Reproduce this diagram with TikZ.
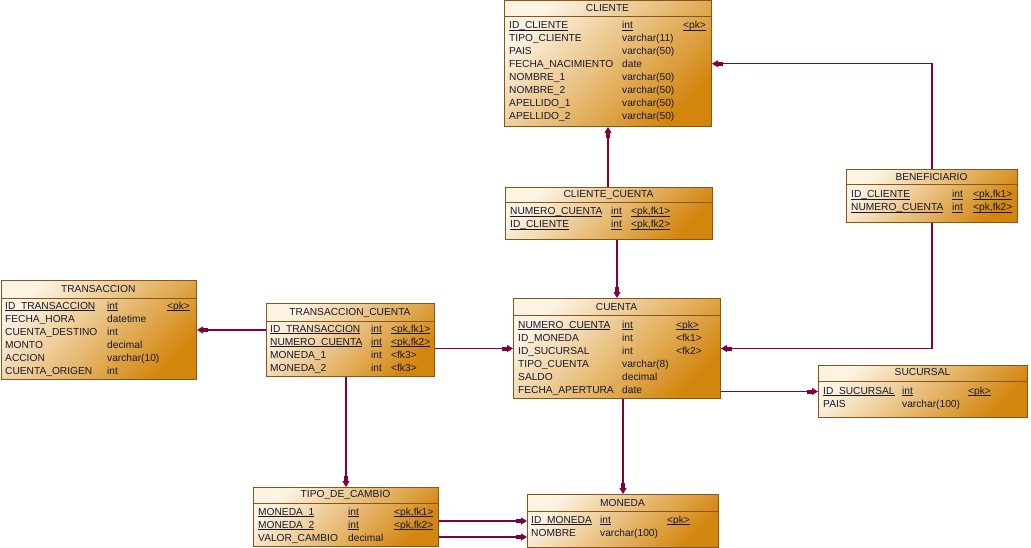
\documentclass[tikz,border=0pt]{standalone}
\usepackage{fontspec}
\setmainfont{Liberation Sans}
\usetikzlibrary{arrows.meta}

\definecolor{fkline}{RGB}{128,0,64}
\definecolor{boxlight}{RGB}{252,243,226}
\definecolor{boxdark}{RGB}{211,134,14}
\definecolor{boxedge}{RGB}{139,84,26}
\definecolor{txt}{RGB}{25,25,45}

\tikzset{
  tbl/.style={draw=boxedge, line width=1pt, top color=boxlight, bottom color=boxdark, shading angle=45, inner sep=0},
  fld/.style={anchor=base west, inner sep=0, text=txt, font=\fontsize{10.2}{12}\selectfont},
  ttl/.style={anchor=base, inner sep=0, text=txt, font=\fontsize{10.2}{12}\selectfont},
  fk/.style={draw=fkline, line width=1.1pt, -{Rectangle[length=5pt,width=4pt,sep=0pt]Triangle[length=6pt,width=7pt,sep=0pt]}},
}

% underlined key columns
\newcommand{\pkul}[1]{\underline{\smash{#1}}}
\newcommand{\nokey}{\relax}
% box: name, title, x1, y1, x2, y2, header line, title baseline
\newcommand{\entity}[8]{%
  \node[tbl, anchor=north west, minimum width=#5-#3, minimum height=#6-#4] (#1) at (#3,#4) {};
  \draw[boxedge, line width=1pt] (#3,#7) -- (#5,#7);
  \node[ttl] (#1-title) at ({(#3+#5)/2},#8) {#2};
}
% rows: table, x name, x type, x key, first baseline, list
\newcommand{\fields}[6]{%
  \foreach \fname/\ftype/\fkey/\fmark [count=\i] in {#6} {
    \node[fld] (#1-n\i) at (#2,#5+13*\i-13) {\fmark{\fname}};
    \node[fld] (#1-t\i) at (#3,#5+13*\i-13) {\fmark{\ftype}};
    \node[fld] (#1-k\i) at (#4,#5+13*\i-13) {\fmark{\fkey}};
  }}

\begin{document}
\begin{tikzpicture}[x=1pt,y=-1pt]
\useasboundingbox (0,0) rectangle (1031,548);

% tables
\entity{cliente}{CLIENTE}{504}{0.5}{711}{126}{17}{12}
\fields{cliente}{509}{622}{683}{29}{ID\_CLIENTE/int/<pk>/\pkul, TIPO\_CLIENTE/varchar(11)/\nokey/\relax,
  PAIS/varchar(50)/\nokey/\relax, FECHA\_NACIMIENTO/date/\nokey/\relax, NOMBRE\_1/varchar(50)/\nokey/\relax,
  NOMBRE\_2/varchar(50)/\nokey/\relax, APELLIDO\_1/varchar(50)/\nokey/\relax, APELLIDO\_2/varchar(50)/\nokey/\relax}

\entity{clicta}{CLIENTE\_CUENTA}{505}{187}{712}{239}{203}{198}
\fields{clicta}{510}{611}{631}{215}{{NUMERO\_CUENTA/int/<pk,fk1>/\pkul}, {ID\_CLIENTE/int/<pk,fk2>/\pkul}}

\entity{benef}{BENEFICIARIO}{846}{169}{1017}{222}{185}{181}
\fields{benef}{851}{952}{973}{198}{{ID\_CLIENTE/int/<pk,fk1>/\pkul}, {NUMERO\_CUENTA/int/<pk,fk2>/\pkul}}

\entity{trans}{TRANSACCION}{0.5}{280}{196}{379}{298}{292}
\fields{trans}{5}{107}{167}{309}{ID\_TRANSACCION/int/<pk>/\pkul, FECHA\_HORA/datetime/\nokey/\relax,
  CUENTA\_DESTINO/int/\nokey/\relax, MONTO/decimal/\nokey/\relax, ACCION/varchar(10)/\nokey/\relax,
  CUENTA\_ORIGEN/int/\nokey/\relax}

\entity{trcta}{TRANSACCION\_CUENTA}{266}{303}{434}{376}{321}{315}
\fields{trcta}{270}{371}{391}{332}{{ID\_TRANSACCION/int/<pk,fk1>/\pkul}, {NUMERO\_CUENTA/int/<pk,fk2>/\pkul},
  MONEDA\_1/int/<fk3>/\relax, MONEDA\_2/int/<fk3>/\relax}

\entity{cuenta}{CUENTA}{513}{298}{720}{398}{315}{310}
\fields{cuenta}{518}{622}{676}{328}{NUMERO\_CUENTA/int/<pk>/\pkul, ID\_MONEDA/int/<fk1>/\relax,
  ID\_SUCURSAL/int/<fk2>/\relax, TIPO\_CUENTA/varchar(8)/\nokey/\relax, SALDO/decimal/\nokey/\relax,
  FECHA\_APERTURA/date/\nokey/\relax}

\entity{sucursal}{SUCURSAL}{818}{365}{1027}{417}{381}{375}
\fields{sucursal}{823}{902}{968}{394}{ID\_SUCURSAL/int/<pk>/\pkul, PAIS/varchar(100)/\nokey/\relax}

\entity{tipocambio}{TIPO\_DE\_CAMBIO}{253}{487}{438}{546}{503}{497}
\fields{tipocambio}{258}{348}{394}{515}{{MONEDA\_1/int/<pk,fk1>/\pkul}, {MONEDA\_2/int/<pk,fk2>/\pkul},
  VALOR\_CAMBIO/decimal/\nokey/\relax}

\entity{moneda}{MONEDA}{527}{494}{718}{547}{511}{506}
\fields{moneda}{531}{600}{667}{523}{ID\_MONEDA/int/<pk>/\pkul, NOMBRE/varchar(100)/\nokey/\relax}

% references
\coordinate (moneda-in2) at ([yshift=-16pt]moneda.west);
\draw[fk] (clicta.north -| cliente.south) -- (cliente.south);
\draw[fk] (clicta.south -| cuenta.north) -- (cuenta.north);
\draw[fk] (benef.north) |- (cliente.east);
\draw[fk] (benef.south) |- (cuenta.east);
\draw[fk] (trcta.west |- trans.east) -- (trans.east);
\draw[fk] (trcta.east |- cuenta.west) -- (cuenta.west);
\draw[fk] (cuenta.east |- sucursal.west) -- (sucursal.west);
\draw[fk] (cuenta.south -| moneda.north) -- (moneda.north);
\draw[fk] (trcta.south -| tipocambio.north) -- (tipocambio.north);
\draw[fk] (tipocambio.east |- moneda.west) -- (moneda.west);
\draw[fk] (tipocambio.east |- moneda-in2) -- (moneda-in2);
\end{tikzpicture}
\end{document}
